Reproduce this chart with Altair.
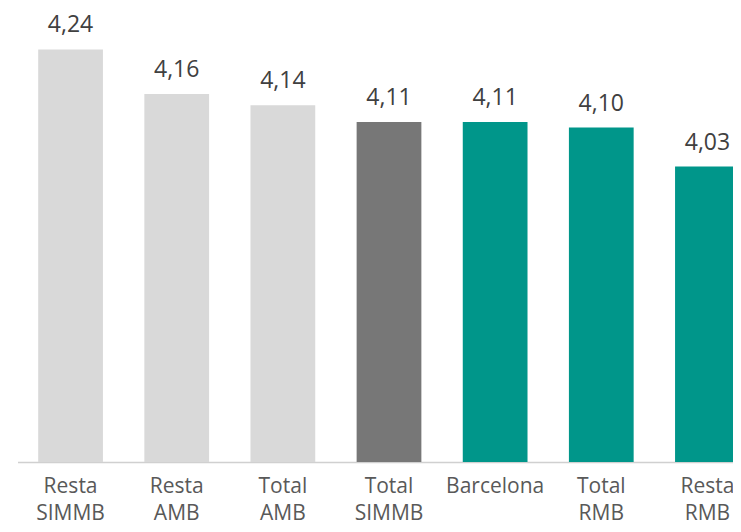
import altair as alt
import pandas as pd

categories = ["Resta SIMMB", "Resta AMB", "Total AMB", "Total SIMMB", "Barcelona", "Total RMB", "Resta RMB"]
values = [4.24, 4.16, 4.14, 4.11, 4.11, 4.10, 4.03]
bar_colors = ["#d9d9d9", "#d9d9d9", "#d9d9d9", "#777777", "#00968a", "#00968a", "#00968a"]

df = pd.DataFrame({"cat": categories, "val": values, "color": bar_colors})

FONT = "Open Sans"

x_enc = alt.X(
    "cat:N",
    sort=categories,
    scale=alt.Scale(range=[0, 743], paddingInner=0.39, paddingOuter=0.195),
    axis=alt.Axis(
        title=None,
        labelAngle=0,
        ticks=False,
        domainColor="#d0d0d0",
        domainWidth=1.5,
        labelFont=FONT,
        labelFontSize=21,
        labelColor="#595959",
        labelPadding=30,
        labelBaseline="alphabetic",
        labelLineHeight=27,
        labelExpr="split(datum.label, ' ')",
    ),
)
y_enc = alt.Y("val:Q", scale=alt.Scale(domain=[3.5, 4.3], zero=False, nice=False, clamp=True), axis=None)

bars = alt.Chart(df).mark_bar().encode(
    x=x_enc,
    y=y_enc,
    color=alt.Color("color:N", scale=None),
)

labels = alt.Chart(df).transform_calculate(
    txt="replace(format(datum.val, '.2f'), '.', ',')"
).mark_text(
    font=FONT, fontSize=23, color="#404040", baseline="alphabetic", dy=-17
).encode(
    x=alt.X("cat:N", sort=categories),
    y="val:Q",
    text="txt:N",
)

chart = (bars + labels).properties(
    width=715,
    height=446,
    autosize=alt.AutoSizeParams(type="none"),
    padding={"left": 9.5, "top": 8, "right": 0, "bottom": 62},
).configure_view(stroke=None)

chart.save("out.html", embed_options={"renderer": "svg", "actions": False})
